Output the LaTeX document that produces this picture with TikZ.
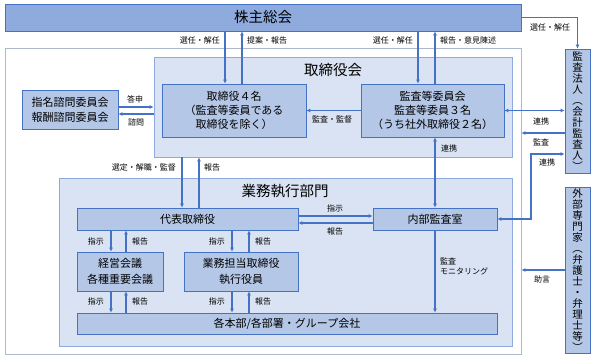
\documentclass[tikz,border=0pt]{standalone}
\usepackage{fontspec}
\setmainfont{Noto Sans CJK JP}
\usetikzlibrary{arrows.meta}

\definecolor{topblue}{HTML}{8FAADC}
\definecolor{paleblue}{HTML}{DAE3F3}
\definecolor{boxblue}{HTML}{B4C7E7}
\definecolor{edgeblue}{HTML}{4472C4}
\definecolor{framegray}{HTML}{ADB9CA}

\tikzset{
  area/.style={draw=topblue, fill=paleblue, line width=0.8pt, inner sep=0pt},
  unit/.style={draw=edgeblue, fill=boxblue, line width=0.7pt, align=center,
    inner sep=0pt, font=\fontsize{11}{14}\selectfont},
  vunit/.style={unit, minimum width=25pt, font=\fontsize{10.5}{11}\selectfont},
  title/.style={font=\fontsize{14.5}{16}\selectfont, inner sep=0pt},
  lbl/.style={font=\fontsize{8}{10}\selectfont, inner sep=1pt},
  arr/.style={draw=edgeblue, line width=1.1pt, -{Latex[length=4pt,width=4pt]}},
  biarr/.style={arr, {Latex[length=4pt,width=4pt]}-{Latex[length=4pt,width=4pt]}}
}

\begin{document}
\begin{tikzpicture}[x=1pt, y=-1pt]
\useasboundingbox (0,0) rectangle (597,361);

% frames
\node[draw=framegray, fill=white, line width=0.8pt, inner sep=0pt,
  minimum width=516pt, minimum height=306pt] (outer) at (263,201) {};
\node[unit, fill=topblue, minimum width=516pt, minimum height=27pt,
  font=\fontsize{14.5}{16}\selectfont] (soukai) at (263,17.5) {株主総会};

\node[area, minimum width=358pt, minimum height=100pt] (board) at (333,107) {};
\node[title] (boardt) at (333,70) {取締役会};
\node[area, minimum width=453pt, minimum height=168pt] (exec) at (285.5,262) {};
\node[title] (exect) at (285,191) {業務執行部門};

% boxes
\node[unit, minimum width=144pt, minimum height=53pt] (dir4) at (234,110.5)
  {取締役４名\\（監査等委員である\\取締役を除く）};
\node[unit, minimum width=143pt, minimum height=53pt] (acom) at (432.5,110.5)
  {監査等委員会\\監査等委員３名\\（うち社外取締役２名）};
\node[unit, minimum width=96pt, minimum height=39pt,
  font=\fontsize{11}{15}\selectfont] (nomin) at (70,109.5)
  {指名諮問委員会\\報酬諮問委員会};
\node[unit, minimum width=221pt, minimum height=22pt] (rep) at (187.5,219) {代表取締役};
\node[unit, minimum width=124pt, minimum height=22pt] (ia) at (435,219) {内部監査室};
\node[unit, minimum width=86pt, minimum height=39pt,
  font=\fontsize{11}{16}\selectfont] (mgmt) at (120,271.5) {経営会議\\各種重要会議};
\node[unit, minimum width=114pt, minimum height=39pt,
  font=\fontsize{11}{16}\selectfont] (ops) at (241,271.5) {業務担当取締役\\執行役員};
\node[unit, minimum width=420pt, minimum height=21pt] (dept) at (287,323.5)
  {各本部/各部署・グループ会社};

\node[vunit, minimum height=124pt] (firm) at (577.5,111)
  {監\\査\\法\\人\\︵\\会\\計\\監\\査\\人\\︶};
\node[vunit, minimum height=166pt] (expert) at (577.5,270)
  {外\\部\\専\\門\\家\\︵\\弁\\護\\士\\・\\弁\\理\\士\\等\\︶};

% shareholders
\draw[arr] (225,0 |- soukai.south) -- (225,0 |- dir4.north);
\draw[arr] (242,0 |- dir4.north) -- (242,0 |- soukai.south);
\draw[arr] (418,0 |- soukai.south) -- (418,0 |- acom.north);
\draw[arr] (435,0 |- acom.north) -- (435,0 |- soukai.south);
\draw[arr] (soukai.east) -| (firm.north);
\node[lbl, anchor=east] (lsel1) at (221,40) {選任・解任};
\node[lbl, anchor=west] (lprop) at (246,40) {提案・報告};
\node[lbl, anchor=east] (lsel2) at (414,40) {選任・解任};
\node[lbl, anchor=west] (lrep1) at (439,40) {報告・意見陳述};
\node[lbl] (lsel3) at (550,27) {選任・解任};

% board
\draw[arr] (nomin.east |- 0,107) -- (board.west |- 0,107);
\draw[arr] (board.west |- 0,114) -- (nomin.east |- 0,114);
\node[lbl] (lans) at (135,99) {答申};
\node[lbl] (lask) at (136,122) {諮問};
\draw[arr] (acom.west) -- (acom.west -| dir4.east);
\node[lbl] (lsup) at (332,119) {監査・監督};

% outside
\draw[biarr] (acom.east) -- (acom.east -| firm.west);
\node[lbl] (lco1) at (541,121) {連携};
\draw[arr] (firm.west |- 0,133) -- (outer.east |- 0,133);
\node[lbl] (laud) at (541,142) {監査};
\draw[biarr] (ia.east) -| (531,154) -- (firm.west |- 0,154);
\node[lbl] (lco2) at (547,162) {連携};
\draw[arr] (expert.west) -- (expert.west -| outer.east);
\node[lbl] (ladv) at (542,279) {助言};

% execution
\draw[arr] (182,0 |- board.south) -- (182,0 |- rep.north);
\draw[arr] (199,0 |- rep.north) -- (199,0 |- board.south);
\node[lbl, anchor=east] (lsel4) at (177,167) {選定・解職・監督};
\node[lbl, anchor=west] (lrep2) at (203,167) {報告};
\draw[arr] (rep.east |- 0,216) -- (ia.west |- 0,216);
\draw[arr] (ia.west |- 0,223) -- (rep.east |- 0,223);
\node[lbl] (lins) at (335,208) {指示};
\node[lbl] (lrep3) at (335,231) {報告};
\draw[biarr] (435,0 |- acom.south) -- (ia.north);
\node[lbl, anchor=west] (lco3) at (440,148) {連携};
\draw[arr] (ia.south) -- (ia.south |- dept.north);
\node[lbl, anchor=north west, align=left] (lmon) at (439,257) {監査\\モニタリング};

\foreach \dx/\ux/\b in {111/126/mgmt, 232/249/ops} {
  \draw[arr] (\dx,0 |- rep.south) -- (\dx,0 |- \b.north);
  \draw[arr] (\ux,0 |- \b.north) -- (\ux,0 |- rep.south);
  \draw[arr] (\dx,0 |- \b.south) -- (\dx,0 |- dept.north);
  \draw[arr] (\ux,0 |- dept.north) -- (\ux,0 |- \b.south);
  \node[lbl, anchor=east] (ins-\b-a) at (\dx-6,241) {指示};
  \node[lbl, anchor=west] (rep-\b-a) at (\ux+5,241) {報告};
  \node[lbl, anchor=east] (ins-\b-b) at (\dx-6,301) {指示};
  \node[lbl, anchor=west] (rep-\b-b) at (\ux+5,301) {報告};
}
\end{tikzpicture}
\end{document}
